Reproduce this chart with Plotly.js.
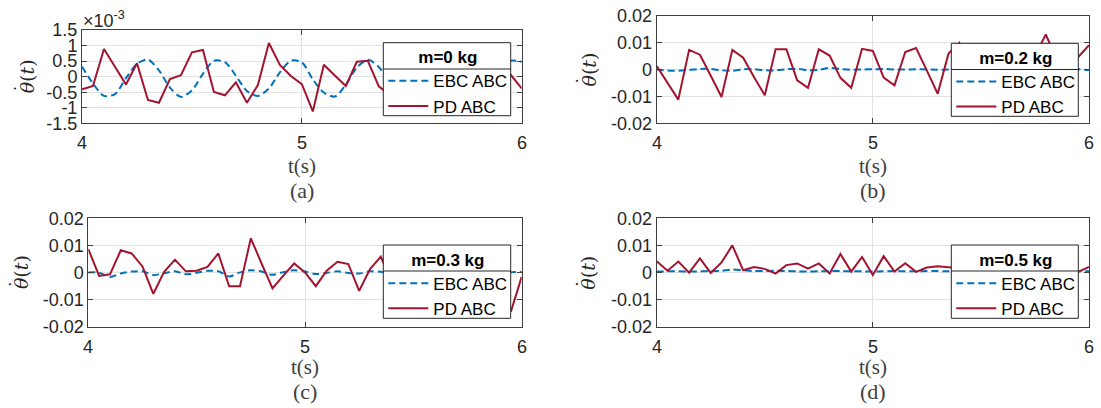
<!DOCTYPE html>
<html>
<head>
<meta charset="utf-8">
<script src="https://cdn.plot.ly/plotly-3.0.1.min.js"></script>
<style>html,body{margin:0;padding:0;background:#fff;}#chart{width:1101px;height:408px;}</style>
</head>
<body>
<div id="chart"></div>
<script>
// ---------- data ----------
const t = [4.00,4.05,4.10,4.15,4.20,4.25,4.30,4.35,4.40,4.45,4.50,4.55,4.60,4.65,4.70,4.75,4.80,4.85,4.90,4.95,
           5.00,5.05,5.10,5.15,5.20,5.25,5.30,5.35,5.40,5.45,5.50,5.55,5.60,5.65,5.70,5.75,5.80,5.85,5.90,5.95,6.00];

// panel (a): values in units of 10^-3
const ebcA = [0.32,-0.22,-0.62,-0.56,-0.05,0.41,0.55,0.20,-0.35,-0.65,-0.44,0.09,0.51,0.47,0.03,-0.46,-0.62,-0.38,0.14,0.51,
              0.46,-0.09,-0.51,-0.64,-0.26,0.29,0.54,0.31,-0.21,-0.61,-0.55,-0.08,0.42,0.54,0.15,-0.40,-0.64,-0.41,0.11,0.51,0.48];
const pdA  = [-0.41,-0.30,0.89,0.31,-0.25,0.43,-0.75,-0.84,-0.08,0.05,0.78,0.86,-0.49,-0.60,-0.18,-0.84,-0.27,1.08,0.38,0.02,
              -0.24,-1.12,0.38,0.04,-0.30,0.48,0.51,-0.31,-0.60,0.70,0.20,-0.50,0.90,-0.40,-0.70,0.30,0.60,-0.80,0.10,0.06,-0.38];

// panel (b)
const ebcB = [0.0000,-0.0004,-0.0005,-0.0002,0.0002,0.0002,-0.0003,-0.0005,0.0001,0.0001,-0.0003,-0.0003,0.0001,0.0003,-0.0003,-0.0001,0.0006,0.0002,-0.0001,0.0000,
              0.0001,0.0002,0.0000,0.0000,0.0001,0.0000,-0.0001,0.0000,0.0001,0.0000,-0.0001,0.0000,0.0001,0.0000,0.0000,0.0001,0.0000,-0.0001,0.0000,0.0001,-0.0002];
const pdB  = [0.0013,-0.0052,-0.0112,0.0073,0.0055,-0.0023,-0.0102,0.0073,0.0044,-0.0028,-0.0096,0.0075,0.0075,-0.0040,-0.0068,0.0075,0.0052,-0.0031,-0.0068,0.0077,
              0.0069,-0.0030,-0.0059,0.0065,0.0080,-0.0004,-0.0090,0.0059,0.0099,-0.0020,-0.0085,0.0070,0.0080,-0.0030,-0.0080,0.0050,0.0130,0.0040,-0.0060,0.0046,0.0090];

// panel (c)
const ebcC = [0.0000,-0.0001,-0.0017,-0.0004,0.0003,0.0004,-0.0010,-0.0003,0.0004,-0.0007,-0.0001,0.0006,0.0004,-0.0015,0.0000,0.0008,0.0003,-0.0009,0.0001,0.0008,
              0.0003,-0.0006,-0.0002,0.0004,-0.0002,-0.0004,0.0004,0.0002,-0.0003,0.0003,0.0001,-0.0003,0.0003,0.0001,-0.0002,0.0002,0.0001,-0.0002,0.0002,0.0001,0.0002];
const pdC  = [0.0086,-0.0013,-0.0007,0.0082,0.0070,0.0022,-0.0079,0.0002,0.0047,0.0004,0.0006,0.0020,0.0070,-0.0051,-0.0051,0.0126,0.0032,-0.0059,-0.0012,0.0033,
              0.0000,-0.0051,0.0006,0.0039,0.0031,-0.0068,0.0012,0.0058,-0.0040,0.0050,0.0020,-0.0060,0.0070,0.0010,-0.0050,0.0040,0.0080,-0.0020,0.0030,-0.0145,-0.0016];

// panel (d)
const ebcD = [0.0003,0.0004,0.0004,0.0003,0.0004,0.0005,0.0006,0.0011,0.0008,0.0005,0.0005,0.0006,0.0005,0.0004,0.0003,0.0004,0.0005,0.0005,0.0004,0.0004,
              0.0003,0.0004,0.0005,0.0004,0.0004,0.0005,0.0005,0.0004,0.0004,0.0005,0.0004,0.0004,0.0005,0.0004,0.0004,0.0005,0.0004,0.0004,0.0005,0.0004,0.0004];
const pdD  = [0.0041,0.0006,0.0040,-0.0001,0.0052,-0.0002,0.0037,0.0100,0.0008,0.0020,0.0013,-0.0004,0.0027,0.0033,0.0014,0.0033,-0.0004,0.0068,0.0003,0.0057,
              -0.0010,0.0060,0.0003,0.0034,0.0002,0.0018,0.0023,0.0020,0.0015,0.0030,0.0005,0.0025,0.0040,0.0010,0.0020,0.0030,0.0005,0.0025,0.0015,0.0002,0.0020];

const seriesNames = ['EBC ABC','PD ABC'];
const legendTitles = ['m=0 kg','m=0.2 kg','m=0.3 kg','m=0.5 kg'];
const panelLetters = ['(a)','(b)','(c)','(d)'];
const xTitle = 't(s)';
const yTitle = '<i>\u03B8</i>(<i>t</i>)';
const yTitleDot = '\u02D9';
const xTickVals = [4,5,6];
const xTickText = ['4','5','6'];
const yTickValsA = [-1.5,-1,-0.5,0,0.5,1,1.5];
const yTickTextA = ['-1.5','-1','-0.5','0','0.5','1','1.5'];
const yTickVals = [-0.02,-0.01,0,0.01,0.02];
const yTickText = ['-0.02','-0.01','0','0.01','0.02'];

// ---------- layout helpers ----------
const W = 1101, H = 408;
const px = v => v / W;
const py = v => 1 - v / H;

const BLUE = '#0072BD', RED = '#A2142F', AX = '#404040', TXT = '#262626';
const SANS = 'Liberation Sans, Arial, sans-serif';
const SERIF = 'Liberation Serif, Times New Roman, serif';
const MATHSERIF = 'DejaVu Serif, serif';

// plot boxes in pixels: [left, right, top, bottom]
const boxes = [
  [82, 521.7, 30, 123.3],
  [656.7, 1089, 15.7, 123.3],
  [88.3, 521.7, 218.3, 326.5],
  [656.7, 1089, 218.3, 326.5]
];
// legend boxes in pixels: [left, right, top, bottom, separatorY]
const legBoxes = [
  [383.3, 510.7, 42.7, 115.7, 69],
  [951.3, 1078.3, 43.3, 116.3, 69.5],
  [383.3, 510.7, 245, 318.3, 271],
  [951.3, 1078.3, 245, 318.3, 271]
];
const tickLabelY = [142.5, 142.5, 346.5, 346.5];
const xTitleY = [165.7, 165.7, 366.7, 366.7];
const labelY = [190.7, 190.7, 391.7, 391.7];
const yTitleX = [26.7, 588, 21.7, 588.3];

const ebc = [ebcA, ebcB, ebcC, ebcD];
const pd = [pdA, pdB, pdC, pdD];

const data = [];
const layout = {
  width: W, height: H,
  margin: {l:0, r:0, t:0, b:0},
  paper_bgcolor: '#fff', plot_bgcolor: '#fff',
  showlegend: true,
  shapes: [], annotations: []
};

for (let k = 0; k < 4; k++) {
  const sfx = k === 0 ? '' : String(k + 1);
  const legName = k === 0 ? 'legend' : 'legend' + (k + 1);
  data.push({
    x: t, y: ebc[k], type: 'scatter', mode: 'lines', name: seriesNames[0],
    xaxis: 'x' + sfx, yaxis: 'y' + sfx, legend: legName,
    line: {color: BLUE, width: 2, dash: '7px,4px', shape: 'spline', smoothing: 0.8}
  });
  data.push({
    x: t, y: pd[k], type: 'scatter', mode: 'lines', name: seriesNames[1],
    xaxis: 'x' + sfx, yaxis: 'y' + sfx, legend: legName,
    line: {color: RED, width: 2}
  });
  const b = boxes[k];
  layout['xaxis' + sfx] = {
    domain: [px(b[0]), px(b[1])], anchor: 'y' + sfx, range: [4, 6],
    tickmode: 'array', tickvals: xTickVals, ticktext: xTickText, showticklabels: false,
    ticks: 'inside', ticklen: 5, tickcolor: AX, showline: true, linecolor: AX, linewidth: 1,
    mirror: 'ticks', showgrid: true, gridcolor: '#e2e2e2', zeroline: false, fixedrange: true
  };
  layout['yaxis' + sfx] = {
    domain: [py(b[3]), py(b[2])], anchor: 'x' + sfx,
    range: k === 0 ? [-1.5, 1.5] : [-0.02, 0.02],
    tickmode: 'array', tickvals: k === 0 ? yTickValsA : yTickVals, ticktext: k === 0 ? yTickTextA : yTickText,
    ticks: 'inside', ticklen: 5, tickcolor: AX, showline: true, linecolor: AX, linewidth: 1,
    mirror: 'ticks', showgrid: true, gridcolor: '#e2e2e2', zeroline: false, fixedrange: true,
    tickfont: {family: SANS, size: 18, color: TXT}
  };
  // x tick labels, positioned on the x scale
  xTickVals.forEach((v, i) => {
    layout.annotations.push({xref: 'x' + sfx, yref: 'paper', x: v, y: py(tickLabelY[k]),
      xanchor: 'center', yanchor: 'middle', showarrow: false, text: xTickText[i],
      font: {family: SANS, size: 18, color: TXT}});
  });
  // x title
  layout.annotations.push({xref: 'paper', yref: 'paper', x: px((b[0] + b[1]) / 2), y: py(xTitleY[k]),
    xanchor: 'center', yanchor: 'middle', showarrow: false, text: xTitle,
    font: {family: SERIF, size: 21, color: '#404040'}});
  // y title (rotated) with the dot above theta
  const cy = (b[2] + b[3]) / 2;
  layout.annotations.push({xref: 'paper', yref: 'paper', x: px(yTitleX[k]), y: py(cy),
    xanchor: 'center', yanchor: 'middle', showarrow: false, textangle: -90, text: yTitle,
    font: {family: MATHSERIF, size: 19, color: TXT}});
  layout.annotations.push({xref: 'paper', yref: 'paper', x: px(yTitleX[k] - 5.5), y: py(cy + 11.5),
    xanchor: 'center', yanchor: 'middle', showarrow: false, textangle: -90, text: yTitleDot,
    font: {family: MATHSERIF, size: 19, color: TXT}});
  // legend
  const L = legBoxes[k];
  layout[legName] = {
    x: px(L[0]), y: py(L[2] - 1.5), xanchor: 'left', yanchor: 'top',
    bgcolor: 'rgba(0,0,0,0)', borderwidth: 0, itemwidth: 40, tracegroupgap: 0,
    font: {family: SANS, size: 17, color: '#000'},
    title: {text: '<b>' + legendTitles[k] + '</b>', side: 'top center', font: {family: SANS, size: 17, color: '#000'}}
  };
  layout.shapes.push({type: 'rect', xref: 'paper', yref: 'paper', layer: 'above',
    x0: px(L[0]), x1: px(L[1]), y0: py(L[3]), y1: py(L[2]),
    fillcolor: '#fff', line: {color: '#262626', width: 1}});
  layout.shapes.push({type: 'line', xref: 'paper', yref: 'paper', layer: 'above',
    x0: px(L[0]), x1: px(L[1]), y0: py(L[4]), y1: py(L[4]),
    line: {color: '#262626', width: 1}});
  // panel letter
  layout.annotations.push({xref: 'paper', yref: 'paper', x: px((b[0] + b[1]) / 2), y: py(labelY[k]),
    xanchor: 'center', yanchor: 'middle', showarrow: false, text: panelLetters[k],
    font: {family: SERIF, size: 22, color: '#404040'}});
}
layout.annotations.push({xref: 'paper', yref: 'paper', x: px(81), y: py(33), xanchor: 'left', yanchor: 'bottom',
  showarrow: false, text: '×10<sup>-3</sup>', font: {family: SANS, size: 18, color: TXT}});

Plotly.newPlot('chart', data, layout, {displayModeBar: false, staticPlot: true});
</script>
</body>
</html>
